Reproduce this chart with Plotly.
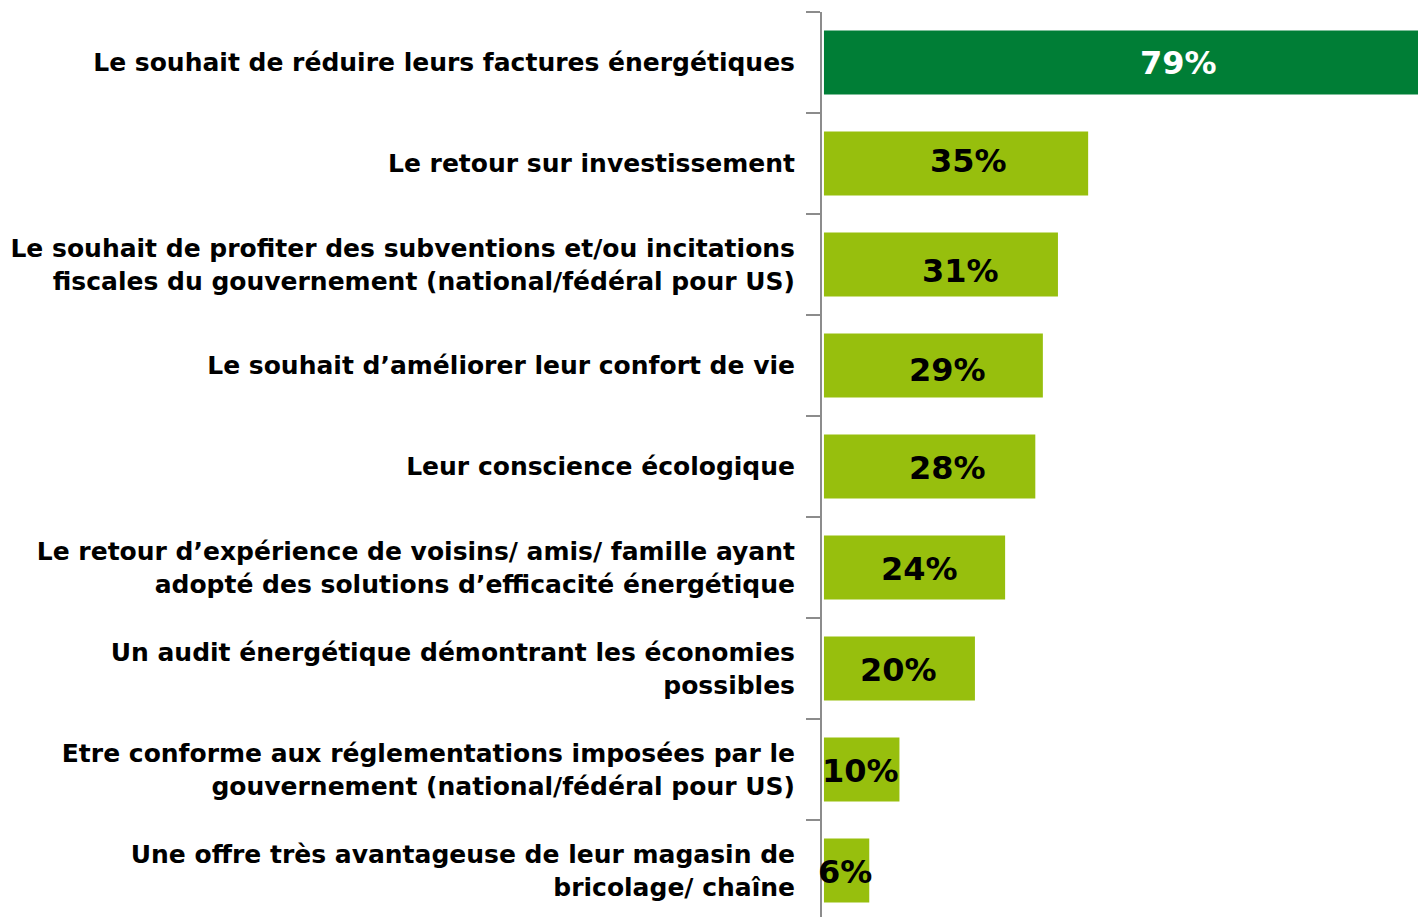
import plotly.graph_objects as go

categories = [
    "Le souhait de réduire leurs factures énergétiques",
    "Le retour sur investissement",
    "Le souhait de profiter des subventions et/ou incitations<br>fiscales du gouvernement (national/fédéral pour US)",
    "Le souhait d’améliorer leur confort de vie",
    "Leur conscience écologique",
    "Le retour d’expérience de voisins/ amis/ famille ayant<br>adopté des solutions d’efficacité énergétique",
    "Un audit énergétique démontrant les économies<br>possibles",
    "Etre conforme aux réglementations imposées par le<br>gouvernement (national/fédéral pour US)",
    "Une offre très avantageuse de leur magasin de<br>bricolage/ chaîne",
]
values = [79, 35, 31, 29, 28, 24, 20, 10, 6]
labels = ["79%", "35%", "31%", "29%", "28%", "24%", "20%", "10%", "6%"]

# where each value label sits, in % units along x (layout only)
label_x = [47, 19.1, 18.1, 16.4, 16.3, 12.6, 9.9, 4.8, 2.8]
label_dy = [0, -3, 6, 4, 1, 1, 1, 1, 1]

dark = "#007E36"
light = "#97BF0D"
colors = [dark] + [light] * (len(values) - 1)
text_colors = ["white"] + ["black"] * (len(values) - 1)

fig = go.Figure()
fig.add_trace(go.Bar(
    y=categories,
    x=values,
    orientation="h",
    marker=dict(color=colors, line=dict(width=0)),
    width=0.634,
    hoverinfo="skip",
))

for cat, lab, lx, dy, tc in zip(categories, labels, label_x, label_dy, text_colors):
    fig.add_annotation(
        x=lx, y=cat, text=lab, showarrow=False,
        xanchor="center", yanchor="middle", yshift=-dy,
        font=dict(family="DejaVu Sans", size=32, color=tc, weight="bold"),
    )

fig.update_layout(
    width=1418,
    height=917,
    margin=dict(l=822, r=0, t=12, b=0),
    plot_bgcolor="white",
    paper_bgcolor="white",
    showlegend=False,
    xaxis=dict(
        range=[-0.26, 78.7],
        visible=False,
        showgrid=False,
        zeroline=False,
    ),
    yaxis=dict(
        range=[-0.5 + 905 / 101, -0.5],
        showgrid=False,
        zeroline=False,
        showline=True,
        linecolor="#8C8C8C",
        linewidth=2,
        ticks="outside",
        tickson="boundaries",
        ticklen=14,
        tickwidth=2,
        tickcolor="#8C8C8C",
        ticklabelstandoff=20,
        tickfont=dict(family="DejaVu Sans", size=25, color="black", weight="bold"),
    ),
)

# drop the page's default body margin so the figure fills the window
fig.write_html(
    "out.html",
    config={"displayModeBar": False},
    post_script="document.body.style.margin='0';document.body.style.overflow='hidden';",
)
